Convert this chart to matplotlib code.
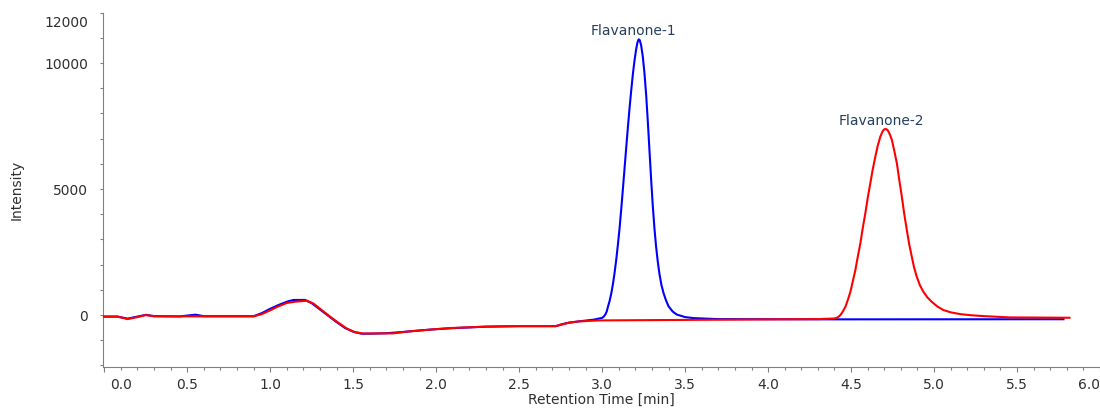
import matplotlib
matplotlib.use('Agg')
import matplotlib.pyplot as plt
import matplotlib.transforms as mtransforms
from matplotlib.ticker import MultipleLocator, FixedLocator

plt.rcParams.update({
    'font.family': 'DejaVu Sans',
    'font.size': 10,
})

# --- Data (time in min, intensity) ---
blue_time = [0.00, 0.08, 0.14, 0.20, 0.25, 0.30, 0.45, 0.55, 0.60, 0.90,
             0.95, 1.00, 1.05, 1.10, 1.14, 1.21, 1.25, 1.30, 1.35, 1.40,
             1.45, 1.50, 1.55, 1.60, 1.70, 1.80, 1.90, 2.00, 2.10, 2.20,
             2.30, 2.50, 2.72, 2.76, 2.80, 2.86, 2.95, 3.00, 3.01, 3.02,
             3.028, 3.035, 3.045, 3.055, 3.065, 3.075, 3.085, 3.095, 3.105, 3.115,
             3.125, 3.135, 3.145, 3.155, 3.165, 3.175, 3.185, 3.195, 3.205, 3.213,
             3.22, 3.227, 3.235, 3.245, 3.255, 3.265, 3.275, 3.285, 3.295, 3.305,
             3.315, 3.325, 3.335, 3.345, 3.357, 3.37, 3.385, 3.40, 3.425, 3.45,
             3.50, 3.55, 3.70, 4.40, 5.78]
blue_int = [-60, -60, -140, -60, 10, -40, -55, 15, -45, -45,
            80, 250, 400, 530, 600, 600, 470, 220, -30, -280,
            -510, -660, -740, -740, -720, -670, -610, -560, -520, -490,
            -460, -440, -440, -360, -300, -250, -180, -110, -60, 30,
            150, 330, 560, 860, 1230, 1680, 2200, 2800, 3450, 4200,
            5000, 5820, 6640, 7440, 8200, 8900, 9550, 10100, 10550, 10820,
            10940, 10900, 10700, 10250, 9600, 8750, 7700, 6550, 5400, 4350,
            3450, 2720, 2130, 1650, 1200, 870, 580, 350, 140, 20,
            -80, -120, -160, -170, -165]

red_time = [0.00, 0.08, 0.14, 0.20, 0.25, 0.30, 0.90, 0.95, 1.00, 1.05,
            1.10, 1.15, 1.22, 1.26, 1.31, 1.36, 1.41, 1.46, 1.51, 1.56,
            1.74, 1.82, 1.98, 2.08, 2.28, 2.48, 2.72, 2.80, 2.86, 2.98,
            3.30, 4.30, 4.40, 4.42, 4.436, 4.45, 4.466, 4.48, 4.496, 4.51,
            4.526, 4.54, 4.556, 4.57, 4.586, 4.60, 4.616, 4.63, 4.646, 4.66,
            4.676, 4.69, 4.70, 4.71, 4.72, 4.733, 4.746, 4.76, 4.776, 4.79,
            4.806, 4.82, 4.836, 4.85, 4.866, 4.88, 4.896, 4.915, 4.936, 4.96,
            4.986, 5.02, 5.057, 5.10, 5.156, 5.22, 5.296, 5.456, 5.816]
red_int = [-60, -60, -160, -80, 0, -50, -50, 40, 190, 350,
           480, 530, 570, 460, 200, -60, -300, -530, -680, -730,
           -726, -660, -567, -516, -463, -437, -437, -304, -251, -212,
           -200, -160, -135, -90, 0, 140, 330, 590, 925, 1330,
           1790, 2300, 2845, 3440, 4040, 4640, 5230, 5760, 6280, 6700,
           7075, 7290, 7370, 7381, 7340, 7180, 6944, 6530, 6020, 5380,
           4694, 4030, 3373, 2820, 2313, 1880, 1520, 1180, 925, 700,
           528, 340, 198, 110, 40, -5, -40, -93, -106]

peak_names = ['Flavanone-1', 'Flavanone-2']
peak_time = [3.22, 4.71]
peak_int = [10940, 7381]

x_ticks = [0.0, 0.5, 1.0, 1.5, 2.0, 2.5, 3.0, 3.5, 4.0, 4.5, 5.0, 5.5, 6.0]
y_ticks = [0, 5000, 10000, 12000]

W, H = 1100, 412
fig = plt.figure(figsize=(W / 100, H / 100), dpi=100)
ax_l, ax_r, ax_t, ax_b = 103.3, 1100, 12.6, 367
ax = fig.add_axes([ax_l / W, (H - ax_b) / H, (ax_r - ax_l) / W, (ax_b - ax_t) / H])

ax.plot(blue_time, blue_int, color='#0000FF', lw=1.5, zorder=3)
ax.plot(red_time, red_int, color='#FF0000', lw=1.5, zorder=4)

text_col = '#243f60'
for name, t, v in zip(peak_names, peak_time, peak_int):
    ax.annotate(name, xy=(t, v), xytext=(-5, 1), textcoords='offset pixels',
                ha='center', va='bottom', color=text_col, fontsize=10)

ax.set_xlim(-0.006, 6.0)
ax.set_ylim(-2060, 12000)

# --- axis styling ---
spine_col = '#808080'
for s in ['top', 'right']:
    ax.spines[s].set_visible(False)
for s in ['left', 'bottom']:
    ax.spines[s].set_color(spine_col)
    ax.spines[s].set_linewidth(0.8)

ax.xaxis.set_major_locator(FixedLocator(x_ticks))
ax.xaxis.set_minor_locator(MultipleLocator(0.1))
ax.yaxis.set_major_locator(FixedLocator(y_ticks))
ax.yaxis.set_minor_locator(MultipleLocator(1000))
ax.set_xticklabels([f'{v:.1f}' for v in x_ticks])
ax.set_yticklabels([str(v) for v in y_ticks])

lab_col = '#303030'
ax.tick_params(axis='x', which='major', length=3.6, width=0.8, color=spine_col,
               pad=4.5, labelcolor=lab_col, labelsize=10)
ax.tick_params(axis='x', which='minor', length=2.2, width=0.8, color=spine_col)
ax.tick_params(axis='y', which='major', length=2.5, width=0.8, color=spine_col,
               pad=8.5, labelcolor=lab_col, labelsize=10)
ax.tick_params(axis='y', which='minor', length=2.0, width=0.8, color=spine_col)

# keep edge labels inside the figure like the original software
xl = ax.get_xticklabels()
xl[0].set_ha('left')
xl[0].set_transform(xl[0].get_transform() +
                    mtransforms.ScaledTranslation(6 / 100, 0, fig.dpi_scale_trans))
xl[-1].set_ha('right')
yl = ax.get_yticklabels()
yl[-1].set_va('top')
yl[-1].set_transform(yl[-1].get_transform() +
                     mtransforms.ScaledTranslation(0, -3 / 100, fig.dpi_scale_trans))

ax.set_xlabel('Retention Time [min]', color=lab_col, fontsize=10)
ax.xaxis.set_label_coords(0.5, -0.072)
ax.set_ylabel('Intensity', color=lab_col, fontsize=10)
ax.yaxis.set_label_coords(-0.080, 0.5)

fig.savefig('out.png', dpi=100)
